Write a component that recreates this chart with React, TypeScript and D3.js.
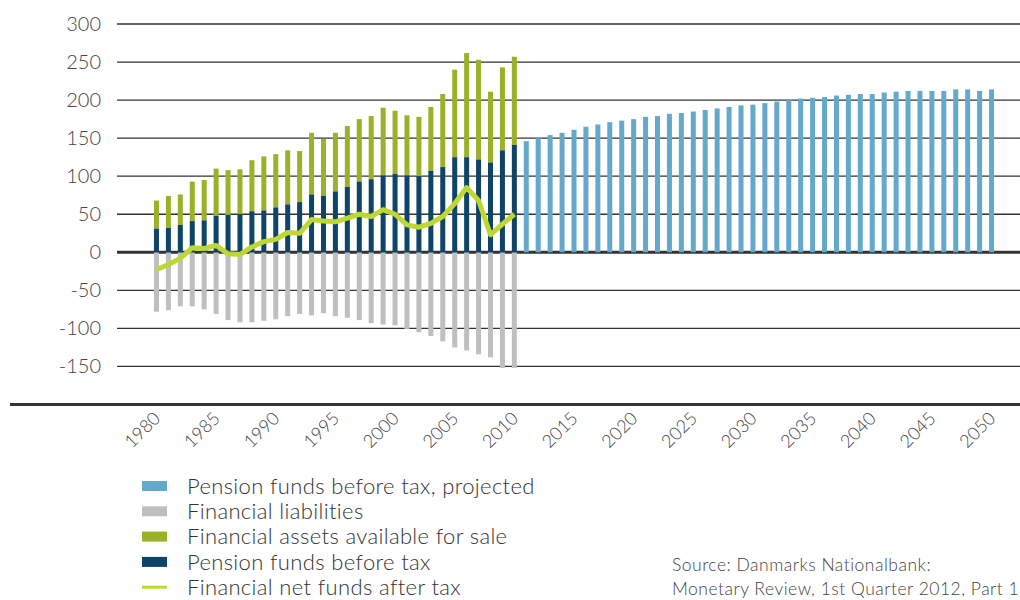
import { useEffect, useRef } from 'react';
import * as d3 from 'd3';

// Years on the axis
const years: number[] = d3.range(1980, 2051);
const tickYears: number[] = d3.range(1980, 2051, 5);
const yTicks: number[] = [300, 250, 200, 150, 100, 50, 0, -50, -100, -150];

// Historic series 1980-2010
const histYears: number[] = d3.range(1980, 2011);
const pensionFunds: number[] = [
  31, 32, 36, 41, 42, 48, 49, 50, 54, 55, 59, 63, 66, 76, 74, 80,
  86, 93, 96, 101, 103, 101, 100, 107, 112, 125, 125, 122, 118, 134, 141,
];
// top of the green bar (pension funds + assets available for sale)
const assetsTop: number[] = [
  68, 74, 76, 93, 95, 110, 108, 109, 121, 126, 129, 134, 133, 157, 149, 157,
  166, 175, 179, 190, 186, 180, 178, 191, 208, 240, 262, 253, 211, 243, 257,
];
const liabilities: number[] = [
  -78, -76, -71, -71, -75, -81, -89, -92, -92, -90, -88, -84, -81, -83, -80, -84,
  -86, -89, -93, -95, -96, -101, -105, -110, -117, -125, -129, -134, -138, -152, -152,
];
const netFunds: number[] = [
  -23, -16, -8, 6, 5, 9, -2, -3, 7, 14, 17, 26, 25, 43, 41, 40,
  45, 50, 47, 56, 50, 36, 33, 38, 47, 64, 85, 68, 23, 37, 50,
];

// Projection 2011-2050
const projYears: number[] = d3.range(2011, 2051);
const projected: number[] = [
  146, 150, 154, 157, 161, 165, 168, 171, 173, 175, 178, 179, 182, 183, 185, 187,
  189, 191, 193, 194, 196, 198, 200, 202, 203, 204, 206, 207, 208, 208, 210, 211,
  212, 212, 212, 212, 214, 214, 212, 214,
];

const legendItems = [
  { label: 'Pension funds before tax, projected', color: '#64a9cc', type: 'rect' },
  { label: 'Financial liabilities', color: '#bfbfbf', type: 'rect' },
  { label: 'Financial assets available for sale', color: '#9cb127', type: 'rect' },
  { label: 'Pension funds before tax', color: '#0f4469', type: 'rect' },
  { label: 'Financial net funds after tax', color: '#bfd733', type: 'line' },
];

const FONT = 'Lato, "Open Sans", sans-serif';

function PensionChart() {
  const svgRef = useRef<SVGSVGElement>(null);

  useEffect(() => {
    const svg = d3.select(svgRef.current);
    svg.selectAll('*').remove();

    const x = d3.scaleBand<number>()
      .domain(years)
      .range([150.5, 997.5])
      .paddingInner(0.58)
      .paddingOuter(0.29);

    const y = d3.scaleLinear()
      .domain([-200, 300])
      .range([404.5, 24]);

    const cx = (yr: number) => (x(yr) as number) + x.bandwidth() / 2;

    // Gridlines
    svg.append('g')
      .selectAll('line')
      .data(yTicks)
      .join('line')
      .attr('x1', 117)
      .attr('x2', 1020)
      .attr('y1', d => y(d))
      .attr('y2', d => y(d))
      .attr('stroke', '#333')
      .attr('stroke-width', d => (d === 0 ? 3 : 1.3));

    // Y labels
    svg.append('g')
      .selectAll('text')
      .data(yTicks)
      .join('text')
      .attr('x', 101)
      .attr('y', d => y(d))
      .attr('dy', '0.35em')
      .attr('text-anchor', 'end')
      .attr('fill', '#444')
      .style('font-family', FONT)
      .style('font-weight', 300)
      .style('font-size', '20px')
      .text(d => d);

    // Liabilities
    svg.append('g')
      .selectAll('rect')
      .data(histYears)
      .join('rect')
      .attr('x', d => x(d) as number)
      .attr('width', x.bandwidth())
      .attr('y', y(0))
      .attr('height', (_, i) => y(liabilities[i]) - y(0))
      .attr('fill', '#bfbfbf');

    // Assets available for sale (stacked above pension funds)
    svg.append('g')
      .selectAll('rect')
      .data(histYears)
      .join('rect')
      .attr('x', d => x(d) as number)
      .attr('width', x.bandwidth())
      .attr('y', (_, i) => y(assetsTop[i]))
      .attr('height', (_, i) => y(pensionFunds[i]) - y(assetsTop[i]))
      .attr('fill', '#9cb127');

    // Pension funds before tax
    svg.append('g')
      .selectAll('rect')
      .data(histYears)
      .join('rect')
      .attr('x', d => x(d) as number)
      .attr('width', x.bandwidth())
      .attr('y', (_, i) => y(pensionFunds[i]))
      .attr('height', (_, i) => y(0) - y(pensionFunds[i]))
      .attr('fill', '#0f4469');

    // Projected pension funds
    svg.append('g')
      .selectAll('rect')
      .data(projYears)
      .join('rect')
      .attr('x', d => x(d) as number)
      .attr('width', x.bandwidth())
      .attr('y', (_, i) => y(projected[i]))
      .attr('height', (_, i) => y(0) - y(projected[i]))
      .attr('fill', '#64a9cc');

    // Net funds line
    const line = d3.line<number>()
      .x((_, i) => cx(histYears[i]))
      .y(d => y(d));

    svg.append('path')
      .datum(netFunds)
      .attr('fill', 'none')
      .attr('stroke', '#bfd733')
      .attr('stroke-width', 5)
      .attr('stroke-linejoin', 'round')
      .attr('d', line);

    // Bottom axis line
    svg.append('line')
      .attr('x1', 10)
      .attr('x2', 1020)
      .attr('y1', y(-200))
      .attr('y2', y(-200))
      .attr('stroke', '#333')
      .attr('stroke-width', 3);

    // X labels
    svg.append('g')
      .selectAll('text')
      .data(tickYears)
      .join('text')
      .attr('transform', d => `translate(${cx(d) + 5},${y(-200) + 15}) rotate(-45)`)
      .attr('text-anchor', 'end')
      .attr('fill', '#444')
      .style('font-family', FONT)
      .style('font-weight', 300)
      .style('font-size', '18px')
      .text(d => d);

    // Legend
    const legend = svg.append('g')
      .attr('transform', 'translate(142,486)');

    const rows = legend.selectAll('g')
      .data(legendItems)
      .join('g')
      .attr('transform', (_, i) => `translate(0,${i * 25.3})`);

    rows.filter(d => d.type === 'rect')
      .append('rect')
      .attr('x', 0)
      .attr('y', -5)
      .attr('width', 25)
      .attr('height', 10)
      .attr('fill', d => d.color);

    rows.filter(d => d.type === 'line')
      .append('rect')
      .attr('x', 0)
      .attr('y', -1.5)
      .attr('width', 25)
      .attr('height', 3)
      .attr('fill', d => d.color);

    rows.append('text')
      .attr('x', 45)
      .attr('y', 0)
      .attr('dy', '0.35em')
      .attr('fill', '#333')
      .style('font-family', FONT)
      .style('font-weight', 300)
      .style('font-size', '22px')
      .style('letter-spacing', '0.35px')
      .text(d => d.label);

    // Source
    const source = svg.append('text')
      .attr('x', 672)
      .attr('fill', '#444')
      .style('font-family', FONT)
      .style('font-weight', 300)
      .style('font-size', '17.5px')
      .style('letter-spacing', '0.5px');
    source.append('tspan').attr('x', 672).attr('y', 571).text('Source: Danmarks Nationalbank:');
    source.append('tspan').attr('x', 672).attr('y', 595).text('Monetary Review, 1st Quarter 2012, Part 1');
  }, []);

  return (
    <svg
      ref={svgRef}
      width={1020}
      height={600}
      style={{ position: 'absolute', left: 0, top: 0, background: '#fff' }}
    />
  );
}

export default function App() {
  return <PensionChart />;
}
